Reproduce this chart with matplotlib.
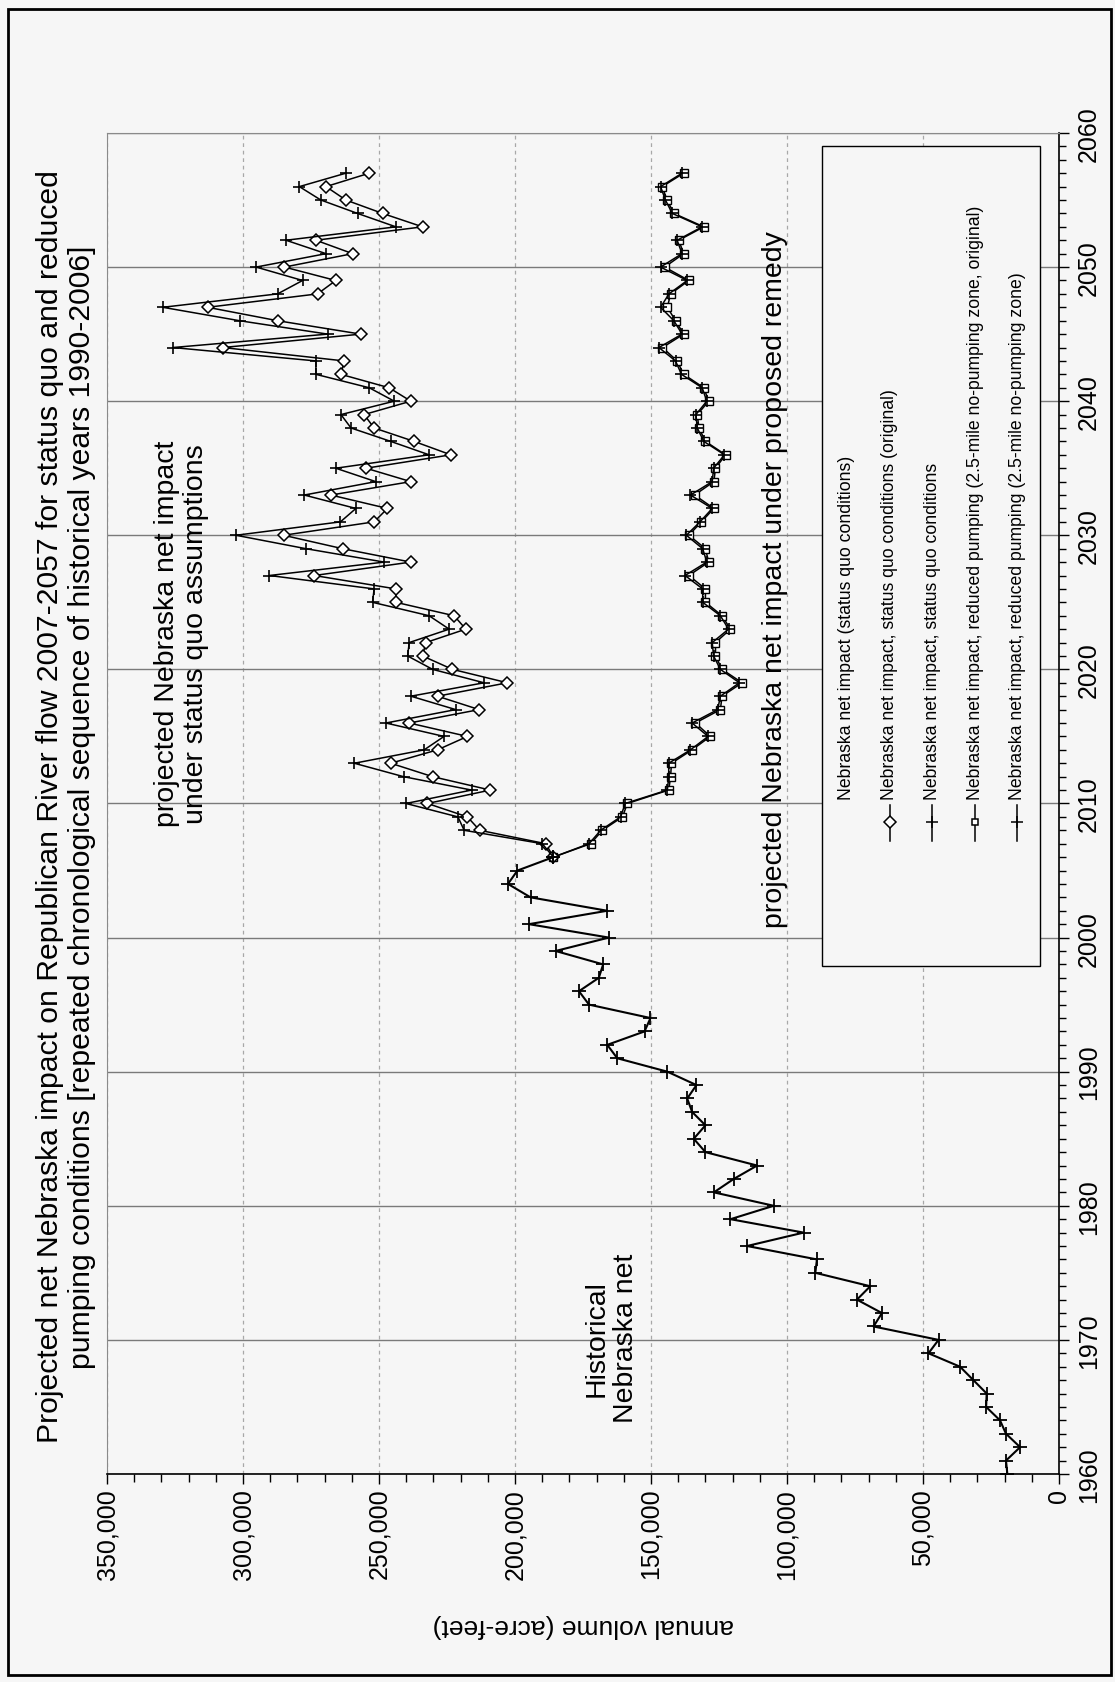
import matplotlib.pyplot as plt
from matplotlib.lines import Line2D
from matplotlib.patches import Rectangle
from matplotlib.ticker import MultipleLocator, FuncFormatter

plt.rcParams['font.family'] = ['Liberation Sans', 'DejaVu Sans']

# historical Nebraska net impact (acre-feet)
hist_years = list(range(1960, 2007))
hist_vals = [19000, 19500, 14300, 19500, 21700, 26800, 26600, 31500, 36400, 48000,
             44300, 68200, 65100, 74300, 69400, 89600, 89000, 114700, 93900, 120800,
             104900, 126900, 119600, 111000, 130000, 134300, 130000, 134900, 136700, 133300,
             144000, 162400, 166100, 152400, 150200, 172800, 176500, 169200, 167600, 185100,
             165500, 194900, 166100, 194300, 202600, 199100, 185900]

# projections 2007-2057
proj_years = list(range(2007, 2058))
sq_orig = [188700, 213000, 217500, 232200, 209100, 230300, 245700, 228500, 217500, 238900,
           213200, 228500, 202800, 223000, 234000, 232800, 218100, 222400, 243800, 243800,
           273800, 238300, 263400, 285100, 251800, 246900, 267700, 238300, 254800, 223600,
           237100, 251800, 255500, 238300, 246300, 264000, 262800, 307400, 256700, 287300,
           313000, 272600, 265900, 284800, 259700, 273200, 234000, 248700, 262200, 269500,
           253600]
sq_new = [190000, 218700, 221000, 240100, 216000, 241000, 259100, 233400, 226100, 247500,
          221800, 238300, 211400, 230300, 239500, 238900, 224200, 231600, 252400, 251800,
          290300, 248100, 276900, 302600, 264200, 258500, 277500, 251200, 265900, 231600,
          245700, 260300, 264000, 244400, 253600, 273200, 273200, 325800, 268900, 301300,
          329500, 287300, 278100, 295200, 269500, 284200, 243800, 257900, 271400, 279300,
          262200]
rp_orig = [172200, 167900, 160500, 158700, 143500, 142800, 142500, 134900, 128200, 133700,
           124500, 123900, 116500, 123900, 126300, 126300, 120800, 123900, 130000, 130000,
           136100, 128800, 130000, 136100, 131500, 126900, 134000, 126900, 126300, 122600,
           130000, 132400, 133000, 128800, 130600, 138000, 140400, 145800, 138000, 141000,
           144000, 142800, 136100, 145000, 138000, 139800, 130600, 141600, 144100, 145900,
           138000]
rp_new = [172800, 168500, 161200, 159500, 144000, 143500, 143500, 135500, 129000, 134900,
          125500, 124500, 117500, 124500, 127000, 127500, 121500, 124500, 131000, 131000,
          137500, 129500, 131000, 137000, 132000, 127500, 135500, 127500, 127000, 123000,
          130600, 133000, 133500, 129500, 131200, 138800, 141000, 147100, 138600, 141600,
          146500, 143400, 136700, 146500, 138600, 140400, 131200, 142200, 144700, 146500,
          138600]

legend_labels = [
    'Nebraska net impact (status quo conditions)',
    'Nebraska net impact, status quo conditions (original)',
    'Nebraska net impact, status quo conditions',
    'Nebraska net impact, reduced pumping (2.5-mile no-pumping zone, original)',
    'Nebraska net impact, reduced pumping (2.5-mile no-pumping zone)',
]
legend_markers = [None, 'D', '+', 's', '+']

title = ('Projected net Nebraska impact on Republican River flow 2007-2057 for status quo and reduced\n'
         'pumping conditions [repeated chronological sequence of historical years 1990-2006]')

bg = '#f6f6f6'
fig = plt.figure(figsize=(11.15, 16.83), dpi=100, facecolor=bg)
ax = fig.add_axes([0.0960, 0.1236, 0.8538, 0.7968], facecolor=bg)

# the chart is drawn turned a quarter turn: years run up the page
x_start = [hist_vals[-1]]
y_start = [hist_years[-1]]
ax.plot(x_start + rp_orig, y_start + proj_years, color='black', lw=1.1,
        marker='s', ms=5.5, mfc='white', mec='black', mew=1.0, zorder=3)
ax.plot(x_start + rp_new, y_start + proj_years, color='black', lw=1.1,
        marker='+', ms=8, mew=1.2, zorder=3)
ax.plot(x_start + sq_orig, y_start + proj_years, color='black', lw=1.1,
        marker='D', ms=6.3, mfc='white', mec='black', mew=1.1, zorder=3)
ax.plot(x_start + sq_new, y_start + proj_years, color='black', lw=1.1,
        marker='+', ms=9, mew=1.2, zorder=3)
ax.plot(hist_vals, hist_years, color='black', lw=1.5,
        marker='+', ms=9.5, mew=1.3, zorder=4)

ax.set_xlim(350000, 0)
ax.set_ylim(1960, 2060)
ax.xaxis.set_major_locator(MultipleLocator(50000))
ax.xaxis.set_minor_locator(MultipleLocator(10000))
ax.xaxis.set_major_formatter(FuncFormatter(lambda v, p: f'{int(v):,}'))
ax.yaxis.set_major_locator(MultipleLocator(10))
ax.yaxis.set_minor_locator(MultipleLocator(1))
ax.yaxis.tick_right()
ax.tick_params(axis='x', which='both', direction='out', labelsize=18,
               labelrotation=90, pad=3)
ax.tick_params(axis='x', which='major', length=7, width=1)
ax.tick_params(axis='x', which='minor', length=6, width=1)
ax.tick_params(axis='y', which='both', direction='out', labelsize=18,
               labelrotation=90, right=True, left=False, pad=6)
ax.tick_params(axis='y', which='major', length=7, width=1)
ax.tick_params(axis='y', which='minor', length=5, width=1)
for lab in ax.get_yticklabels():
    lab.set_va('center')

ax.grid(True, axis='x', which='major', color='#a8a8a8', lw=0.9, ls=(0, (3, 3)))
ax.grid(True, axis='y', which='major', color='#7a7a7a', lw=1.0)
ax.set_axisbelow(True)
for side in ['top', 'left']:
    ax.spines[side].set_color('#8a8a8a')
for side in ['bottom', 'right']:
    ax.spines[side].set_color('black')
    ax.spines[side].set_linewidth(1.2)

# notes inside the plot
ax.text(0.530, 0.0388, 'Historical\nNebraska net', transform=ax.transAxes,
        rotation=90, ha='center', va='bottom', fontsize=20.5, linespacing=1.15)
ax.text(0.0777, 0.483, 'projected Nebraska net impact\nunder status quo assumptions',
        transform=ax.transAxes, rotation=90, ha='center', va='bottom',
        fontsize=20.5, linespacing=1.15)
ax.text(0.702, 0.408, 'projected Nebraska net impact under proposed remedy',
        transform=ax.transAxes, rotation=90, ha='center', va='bottom', fontsize=20.5)

# legend box, drawn turned like the rest
ax.add_patch(Rectangle((0.751, 0.379), 0.229, 0.611, transform=ax.transAxes,
                       facecolor=bg, edgecolor='black', lw=1.0, zorder=5))
entry_x = [0.777, 0.822, 0.867, 0.912, 0.956]
for ex, lab, mk in zip(entry_x, legend_labels, legend_markers):
    ax.text(ex, 0.503, lab, transform=ax.transAxes, rotation=90,
            ha='center', va='bottom', fontsize=12.7, zorder=6)
    if mk is None:
        continue
    ax.add_line(Line2D([ex, ex], [0.472, 0.499], transform=ax.transAxes,
                       color='black', lw=1.1, zorder=6))
    ms = {'D': 6, 's': 5, '+': 9}[mk]
    ax.add_line(Line2D([ex], [0.486], transform=ax.transAxes, marker=mk, ms=ms,
                       mfc='white', mec='black', mew=1.1, color='black', zorder=7))

fig.text(66 / 1115, 1 - 807 / 1683, title, rotation=90, ha='center', va='center',
         fontsize=21.7, multialignment='center', linespacing=1.2)
fig.text(583 / 1115, 1 - 1626 / 1683, 'annual volume (acre-feet)', rotation=180,
         ha='center', va='center', fontsize=19)

fig.add_artist(Rectangle((8 / 1115, 1 - 1676 / 1683), 1103 / 1115, 1666 / 1683,
                         transform=fig.transFigure, fill=False, ec='black', lw=2))

fig.savefig('out.png', dpi=100, facecolor=bg)
